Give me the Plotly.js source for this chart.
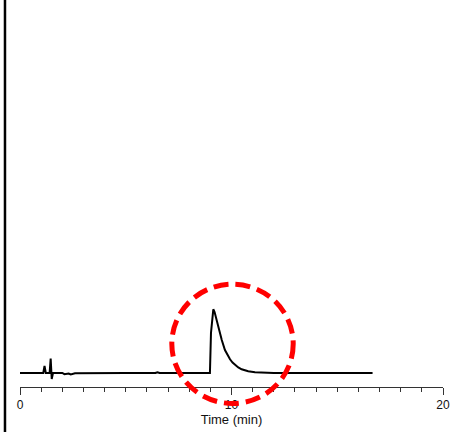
<!DOCTYPE html>
<html>
<head>
<meta charset="utf-8">
<script src="https://cdn.plot.ly/plotly-3.0.1.min.js"></script>
<style>html,body{margin:0;padding:0;background:#fff;}#chart{width:450px;height:432px;}</style>
</head>
<body>
<div id="chart"></div>
<script>
// Chromatogram trace (time in min, detector signal in arbitrary units)
const timeMin = [0, 0.5, 1.0, 1.10, 1.16, 1.22, 1.40, 1.45, 1.50, 1.56, 2.0, 2.1, 2.3, 2.4, 2.6, 3.5, 5.0, 6.4, 6.5, 6.6, 8.0, 8.98, 9.03, 9.10, 9.14, 9.20, 9.27, 9.38, 9.54, 9.69, 9.81, 9.93, 10.05, 10.17, 10.32, 10.48, 10.63, 10.79, 11.11, 11.5, 12.0, 14.0, 16.67];
const signal  = [0, 0, 0, 0, 0.7, 0, 0, 1.45, -0.6, 0, 0, -0.12, -0.05, -0.15, -0.03, 0, 0, 0, 0.08, 0, 0, 0, 4.0, 6.2, 6.37, 6.1, 5.5, 4.63, 3.3, 2.3, 1.78, 1.37, 1.05, 0.8, 0.56, 0.37, 0.25, 0.17, 0.07, 0.02, 0, 0, 0];
const xTickVals = [0, 10, 20];
const xTickText = ["0", "10", "20"];
const xTitle = "Time (min)";

const trace = {
  x: timeMin, y: signal, type: 'scatter', mode: 'lines',
  line: {color: '#000', width: 2}, hoverinfo: 'skip'
};

const layout = {
  width: 450, height: 432,
  margin: {l: 20, r: 7, t: 0, b: 45},
  paper_bgcolor: '#fff', plot_bgcolor: '#fff',
  showlegend: false,
  font: {family: 'Liberation Sans, Arial, sans-serif', color: '#111'},
  xaxis: {
    range: [0, 20], fixedrange: true,
    showline: true, linecolor: '#333', linewidth: 1,
    showgrid: false, zeroline: false,
    ticks: 'outside', ticklen: 7, tickcolor: '#333', tickwidth: 1,
    tickvals: xTickVals, ticktext: xTickText,
    tickfont: {size: 12, color: '#111'},
    minor: {dtick: 1, ticks: 'outside', ticklen: 4, tickcolor: '#333', tickwidth: 1, showgrid: false},
    title: {text: xTitle, font: {size: 13, color: '#111'}, standoff: 3}
  },
  yaxis: {visible: false, range: [-1.4, 37.3], fixedrange: true},
  shapes: [
    {type: 'line', xref: 'paper', yref: 'paper', x0: -0.0355, x1: -0.0355, y0: -0.2, y1: 1.05,
     line: {color: '#000', width: 2.5}},
    {type: 'circle', xref: 'paper', yref: 'paper', x0: 0.3589, x1: 0.6459, y0: -0.0426, y1: 0.2656,
     line: {color: '#ff0000', width: 5, dash: '15px,7px'}}
  ]
};

Plotly.newPlot('chart', [trace], layout, {displayModeBar: false, staticPlot: true});
</script>
</body>
</html>
